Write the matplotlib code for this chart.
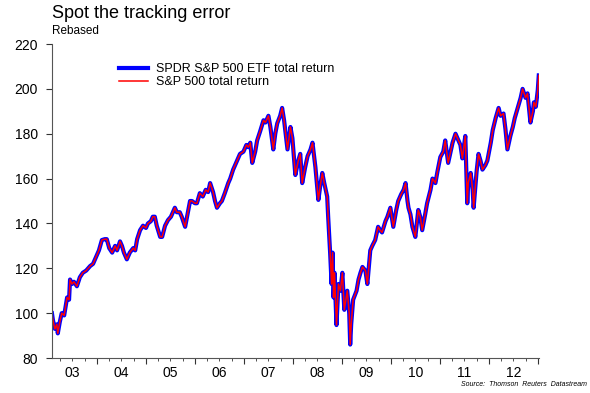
import matplotlib.pyplot as plt
import matplotlib.ticker as mticker
import numpy as np

plt.rcParams['font.family'] = ['Liberation Sans', 'DejaVu Sans']

# dates as decimal years, values rebased to 100
dates = [2003.08, 2003.10, 2003.14, 2003.18, 2003.20, 2003.24, 2003.28, 2003.33, 2003.39, 2003.43,
         2003.45, 2003.49, 2003.53, 2003.59, 2003.65, 2003.71, 2003.78, 2003.86, 2003.92, 2003.98,
         2004.04, 2004.10, 2004.16, 2004.20, 2004.25, 2004.31, 2004.37, 2004.41, 2004.47, 2004.51,
         2004.55, 2004.61, 2004.67, 2004.74, 2004.78, 2004.82, 2004.88, 2004.94, 2005.00, 2005.04,
         2005.10, 2005.14, 2005.18, 2005.22, 2005.29, 2005.33, 2005.39, 2005.45, 2005.51, 2005.55,
         2005.59, 2005.63, 2005.69, 2005.73, 2005.80, 2005.84, 2005.90, 2005.94, 2006.00, 2006.04,
         2006.10, 2006.16, 2006.22, 2006.27, 2006.31, 2006.37, 2006.41, 2006.45, 2006.51, 2006.55,
         2006.61, 2006.68, 2006.72, 2006.78, 2006.84, 2006.92, 2006.99, 2007.05, 2007.09, 2007.13,
         2007.17, 2007.23, 2007.27, 2007.33, 2007.40, 2007.44, 2007.50, 2007.54, 2007.60, 2007.64,
         2007.68, 2007.74, 2007.78, 2007.82, 2007.89, 2007.95, 2007.99, 2008.05, 2008.11, 2008.15,
         2008.19, 2008.25, 2008.30, 2008.36, 2008.40, 2008.46, 2008.52, 2008.56, 2008.60, 2008.64,
         2008.70, 2008.72, 2008.76, 2008.79, 2008.81, 2008.83, 2008.85, 2008.89, 2008.93, 2008.97,
         2009.01, 2009.05, 2009.11, 2009.15, 2009.17, 2009.19, 2009.23, 2009.30, 2009.34, 2009.38,
         2009.42, 2009.48, 2009.52, 2009.58, 2009.62, 2009.68, 2009.74, 2009.78, 2009.82, 2009.89,
         2009.93, 2009.99, 2010.05, 2010.11, 2010.15, 2010.21, 2010.26, 2010.30, 2010.34, 2010.36,
         2010.40, 2010.44, 2010.50, 2010.56, 2010.60, 2010.64, 2010.70, 2010.74, 2010.81, 2010.85,
         2010.91, 2010.95, 2011.01, 2011.07, 2011.11, 2011.17, 2011.22, 2011.26, 2011.32, 2011.38,
         2011.42, 2011.46, 2011.52, 2011.56, 2011.58, 2011.63, 2011.67, 2011.69, 2011.75, 2011.79,
         2011.83, 2011.87, 2011.93, 2011.97, 2012.04, 2012.08, 2012.14, 2012.20, 2012.24, 2012.30,
         2012.34, 2012.38, 2012.44, 2012.49, 2012.53, 2012.59, 2012.65, 2012.69, 2012.75, 2012.79,
         2012.85, 2012.90, 2012.92, 2012.96, 2013.00, 2013.02]
sp500 = [100, 97, 93, 95, 91, 96, 100, 99, 107, 106,
         115, 113, 114, 112, 116, 118, 119, 121, 122, 125,
         128, 132.6, 133, 133, 129, 127, 130, 128, 132, 130,
         127, 124, 127, 129, 128, 133, 137, 139, 138, 140,
         141, 143, 143, 139, 134, 134, 139, 141.5, 143, 145,
         147, 145, 145, 143, 138.5, 143, 150, 150, 149, 149,
         153.5, 152, 155, 154, 158, 154, 150, 147, 149, 150,
         153.5, 158, 160, 164, 167, 171, 172, 175, 174, 176,
         167, 172, 177, 181, 186, 185, 188, 183, 173, 180,
         184.6, 188, 191.5, 186, 173, 183, 178, 161.6, 168, 171,
         158, 165, 170, 173, 176, 165, 150.5, 157, 162.5, 158,
         152, 143, 127, 113, 127, 107, 118, 94.7, 113, 110,
         118, 101.5, 110, 100, 86, 95, 106, 110, 115, 118,
         120.6, 119, 113, 128, 130, 132.6, 138.5, 137, 136, 141,
         143, 147, 138.5, 146, 150, 153, 155, 158, 150, 147,
         144, 138.5, 134, 146, 143, 137, 144, 149, 155, 160,
         158, 163, 169.6, 172, 177, 167, 172, 176, 180, 177,
         175, 169, 179, 149, 158, 162.5, 155, 147, 163, 171,
         168, 164, 166, 168, 176, 181.6, 187, 191.5, 188, 189,
         182, 173, 179, 183, 187, 191.5, 196, 200, 196, 198,
         185, 190, 194, 192, 199.5, 206]
spdr = sp500  # the ETF tracks the index so closely the two lines overlap
years = [2003, 2004, 2005, 2006, 2007, 2008, 2009, 2010, 2011, 2012]
year_labels = ['03', '04', '05', '06', '07', '08', '09', '10', '11', '12']

fig = plt.figure(figsize=(5.9, 3.93), dpi=100)
ax = fig.add_axes([0.088, 0.089, 0.826, 0.799])

ax.plot(dates, spdr, color='#0000ff', lw=3.0, label='SPDR S&P 500 ETF total return')
ax.plot(dates, sp500, color='#ff0000', lw=1.1, label='S&P 500 total return')

ax.set_xlim(2003.08, 2013.03)
ax.set_ylim(80, 220)
ax.set_yticks(np.arange(80, 221, 20))

ax.xaxis.set_major_locator(mticker.FixedLocator(years[1:] + [2013]))
ax.xaxis.set_minor_locator(mticker.FixedLocator(np.arange(2003.25, 2013.0, 0.25)))
ax.set_xticklabels([])
for y, lab in zip(years, year_labels):
    ax.text(y + 0.5, -0.025, lab, transform=ax.get_xaxis_transform(),
            ha='center', va='top', fontsize=10)

for s in ['top', 'right']:
    ax.spines[s].set_visible(False)
for s in ['left', 'bottom']:
    ax.spines[s].set_color('#555555')
ax.tick_params(axis='y', direction='out', length=4, labelsize=10, pad=6, color='#333333')
ax.tick_params(axis='x', which='major', direction='out', length=4, color='#333333')
ax.tick_params(axis='x', which='minor', direction='out', length=2, color='#333333')

ax.legend(loc='upper left', bbox_to_anchor=(0.128, 0.955), frameon=False,
          fontsize=9, handlelength=2.3, handletextpad=0.6, borderaxespad=0,
          labelspacing=0.1)

fig.text(0.088, 0.955, 'Spot the tracking error', fontsize=13, ha='left', va='baseline')
fig.text(0.088, 0.913, 'Rebased', fontsize=8.5, ha='left', va='baseline')
fig.text(0.995, 0.018, 'Source:  Thomson  Reuters  Datastream', fontsize=5,
         style='italic', ha='right', va='baseline')

fig.savefig('out.png', dpi=100)
